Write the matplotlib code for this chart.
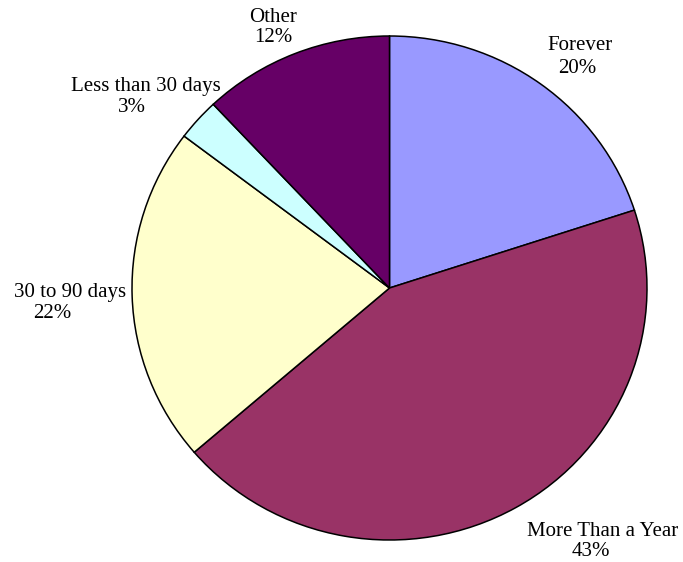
import matplotlib.pyplot as plt

categories = ['Forever', 'More Than a Year', '30 to 90 days', 'Less than 30 days', 'Other']
shares = [20.0, 43.7, 21.6, 2.7, 12.0]
# percentages as printed on the chart
pct_labels = ['20%', '43%', '22%', '3%', '12%']
colors = ['#9999FF', '#993366', '#FFFFCC', '#CCFFFF', '#660066']

# label placement in pixels (name centre, percent centre), as in the original
label_px = [((580, 46), (577, 68)),
            ((603, 532), (591, 552)),
            ((70, 293), (52, 314)),
            ((146, 87), (132, 107)),
            ((273, 17), (273, 38))]

W, H = 683, 562
fig = plt.figure(figsize=(W / 100, H / 100), dpi=100)
# pie is slightly wider than tall in the original
ax = fig.add_axes([132 / W, 1 - 540 / H, 515 / W, 504 / H])
ax.pie(shares, colors=colors, startangle=90, counterclock=False,
       wedgeprops={'edgecolor': 'black', 'linewidth': 1.1})
ax.set_aspect('auto')
ax.set_xlim(-1, 1)
ax.set_ylim(-1, 1)

font = {'family': 'Liberation Serif', 'size': 15}
for name, pct, (p1, p2) in zip(categories, pct_labels, label_px):
    fig.text(p1[0] / W, 1 - p1[1] / H, name, ha='center', va='center', **font)
    fig.text(p2[0] / W, 1 - p2[1] / H, pct, ha='center', va='center', **font)

plt.savefig('out.png', dpi=100)
